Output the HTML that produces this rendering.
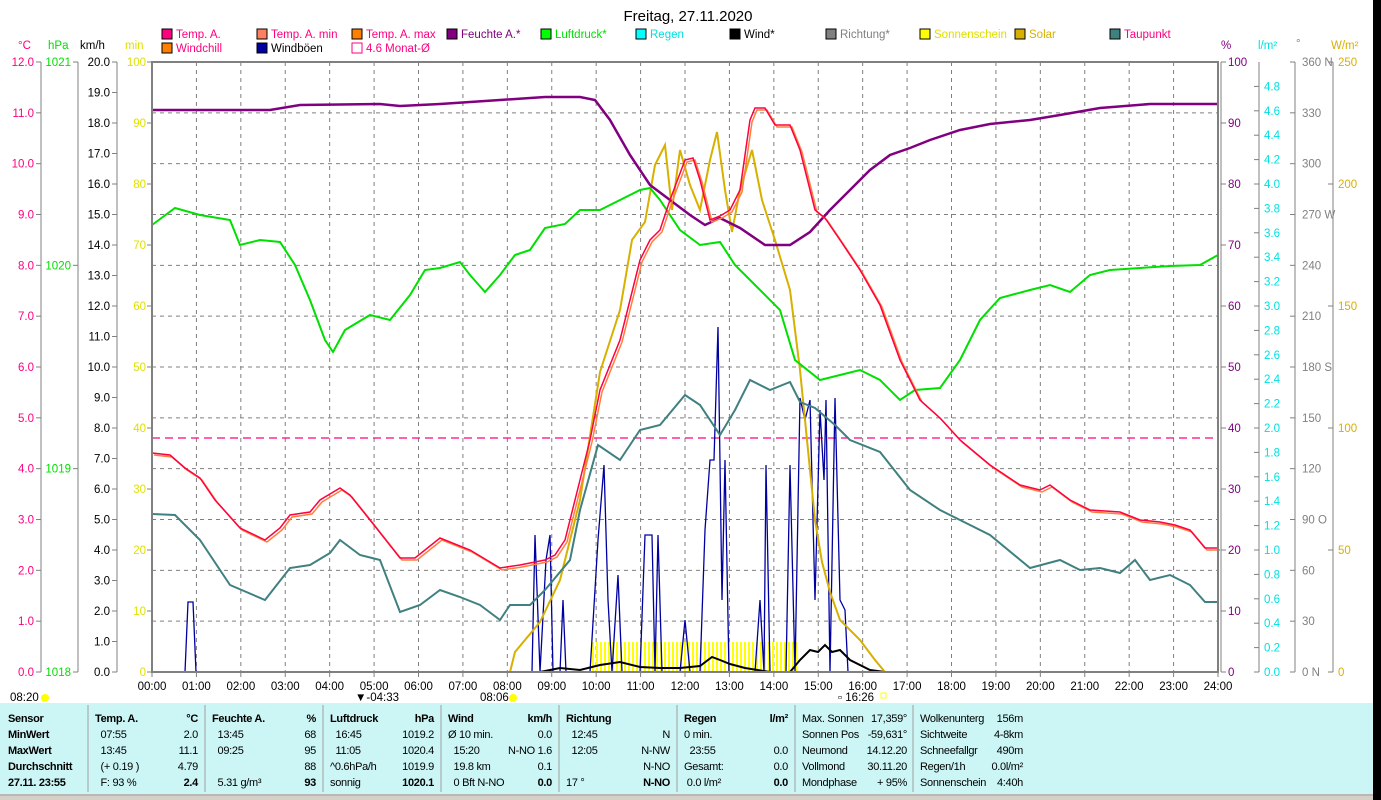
<!DOCTYPE html>
<html><head><meta charset="utf-8"><style>
html,body{margin:0;padding:0;background:#fff;width:1381px;height:800px;overflow:hidden}
svg{display:block;font-family:"Liberation Sans",sans-serif;font-size:12px}
#tbl text{letter-spacing:-0.3px}
</style></head><body>
<svg id="s" width="1381" height="800" viewBox="0 0 1381 800" xmlns="http://www.w3.org/2000/svg">
<rect x="1373" y="0" width="8" height="800" fill="#000"/>
<text x="688" y="21" font-size="15" text-anchor="middle">Freitag, 27.11.2020</text>
<g id="leg" font-size="11.5"></g>
<g id="ax"></g>
<defs><pattern id="sun" width="4" height="30" patternUnits="userSpaceOnUse"><rect width="2" height="30" fill="#ffff00"/></pattern></defs>
<rect x="590" y="642" width="207" height="30" fill="url(#sun)"/>
<line x1="152" y1="438" x2="1218" y2="438" stroke="#ff0080" stroke-width="1.3" stroke-dasharray="8,5"/>
<polyline fill="none" stroke="#0000a0" stroke-width="1.3" points="152,672 185,672 188,602 193,602 196,672 532,672 535,535 540,672 546,560 550,535 553,672 560,672 563,600 566,672 590,672 598,540 604,465 608,600 612,672 618,575 622,672 640,672 645,535 652,535 655,672 658,535 662,672 680,672 685,620 690,672 700,672 705,530 710,460 714,460 718,327 722,600 725,460 729,672 755,672 760,600 764,672 766,465 770,672 786,672 790,465 795,672 800,398 805,420 810,400 815,600 820,410 824,480 826,400 830,672 835,398 840,600 845,610 848,672 1218,672"/>
<polyline fill="none" stroke="#000" stroke-width="2" points="540,672 560,668 580,670 600,665 620,662 640,667 660,668 680,668 700,666 712,657 720,660 730,664 745,668 770,672 790,672 800,660 810,650 818,652 825,645 832,652 840,650 850,660 870,670 885,672"/>
<polyline fill="none" stroke="#d8b000" stroke-width="2" points="510,672 515,652 540,622 560,580 580,500 600,372 620,310 632,240 645,222 655,165 665,145 672,210 680,150 690,185 700,210 710,160 717,132 725,190 732,232 740,190 752,150 762,200 775,240 790,290 800,370 805,420 810,470 815,520 822,562 830,592 840,620 860,640 875,660 885,672"/>
<polyline fill="none" stroke="#00e000" stroke-width="2" points="152,225 175,208 200,215 230,220 240,245 260,240 280,242 295,265 310,300 325,340 333,352 345,330 370,315 390,320 410,295 425,270 440,268 460,262 470,275 485,292 500,275 515,255 530,250 545,228 565,224 580,210 600,210 620,200 640,190 650,188 660,200 680,230 700,245 720,242 735,265 760,290 780,310 795,360 820,380 840,375 860,370 880,380 900,400 915,390 940,388 960,360 980,320 1000,298 1030,290 1050,285 1070,292 1090,275 1110,270 1140,268 1170,266 1200,265 1218,255"/>
<polyline fill="none" stroke="#408080" stroke-width="2" points="152,514 175,515 200,540 230,585 265,600 290,568 310,565 330,553 340,540 360,555 380,560 400,612 420,605 440,590 460,597 480,605 500,620 510,605 530,605 545,590 570,560 580,510 598,445 620,460 640,430 660,425 685,395 700,405 720,435 735,410 750,380 770,390 790,382 800,402 815,408 835,425 850,440 880,452 910,490 940,510 960,520 990,535 1030,568 1060,560 1080,570 1100,568 1120,573 1135,560 1150,580 1170,575 1190,585 1205,602 1218,602"/>
<polyline fill="none" stroke="#800080" stroke-width="2.5" points="152,110 270,110 300,105 380,104 400,106 440,104 500,100 545,97 580,97 595,100 610,120 630,155 650,185 670,200 690,215 705,225 720,218 740,228 765,245 790,245 810,232 830,210 850,190 870,170 890,155 910,148 930,140 960,130 990,124 1030,120 1060,115 1100,108 1150,104 1218,104"/>
<polyline fill="none" stroke="#ff8040" stroke-width="1.5" transform="translate(2,2)" points="152,453 170,455 185,468 200,478 215,500 240,528 265,540 280,528 290,515 310,512 320,500 340,488 350,495 370,520 400,558 415,558 440,538 470,550 500,568 520,565 545,560 555,555 565,540 580,480 590,440 600,390 620,340 640,260 650,240 660,230 670,200 685,160 693,158 700,180 710,220 720,216 730,210 740,190 750,120 755,108 765,108 775,125 790,125 800,150 815,210 825,218 840,240 860,270 880,305 900,360 920,400 940,418 960,440 990,465 1020,485 1040,490 1050,485 1070,500 1090,510 1120,512 1140,520 1160,522 1175,525 1190,530 1205,548 1218,548"/>
<polyline fill="none" stroke="#ff0040" stroke-width="1.5" points="152,453 170,455 185,468 200,478 215,500 240,528 265,540 280,528 290,515 310,512 320,500 340,488 350,495 370,520 400,558 415,558 440,538 470,550 500,568 520,565 545,560 555,555 565,540 580,480 590,440 600,390 620,340 640,260 650,240 660,230 670,200 685,160 693,158 700,180 710,220 720,216 730,210 740,190 750,120 755,108 765,108 775,125 790,125 800,150 815,210 825,218 840,240 860,270 880,305 900,360 920,400 940,418 960,440 990,465 1020,485 1040,490 1050,485 1070,500 1090,510 1120,512 1140,520 1160,522 1175,525 1190,530 1205,548 1218,548"/>
<line x1="152" y1="672" x2="1218" y2="672" stroke="#00e0e0" stroke-width="2"/>
<rect x="152" y="62" width="1066" height="610" fill="none" stroke="#808080" stroke-width="2"/>
<g font-size="11.5">
<text x="10" y="701">08:20</text><circle cx="45" cy="698" r="4" fill="#ffff00"/>
<text x="355" y="701">▼-04:33</text>
<text x="480" y="701">08:06</text><circle cx="513" cy="698" r="4" fill="#ffff00"/>
<text x="838" y="701">▫ 16:26</text><rect x="881" y="693" width="5" height="5" fill="none" stroke="#ffff00"/>
</g>
<rect x="0" y="703" width="1373" height="91" fill="#ccf5f5"/>
<rect x="0" y="794" width="1373" height="6" fill="#d4d0c8"/>
<line x1="0" y1="795" x2="1373" y2="795" stroke="#a0a0a0"/>
<g stroke="#a0a0a0"><line x1="88" y1="705" x2="88" y2="792"/><line x1="205" y1="705" x2="205" y2="792"/><line x1="323" y1="705" x2="323" y2="792"/><line x1="441" y1="705" x2="441" y2="792"/><line x1="559" y1="705" x2="559" y2="792"/><line x1="677" y1="705" x2="677" y2="792"/><line x1="795" y1="705" x2="795" y2="792"/><line x1="913" y1="705" x2="913" y2="792"/></g>
<g id="tbl" font-size="11"></g>
</svg>
<script>
var NS="http://www.w3.org/2000/svg",ax=document.getElementById('ax');
function T(g,x,y,t,o){var e=document.createElementNS(NS,'text');e.setAttribute('x',x);e.setAttribute('y',y);for(var k in (o||{}))e.setAttribute(k,o[k]);e.textContent=t;e.style.whiteSpace='pre';g.appendChild(e);return e;}
function L(g,x1,y1,x2,y2,c,o){var e=document.createElementNS(NS,'line');e.setAttribute('x1',x1);e.setAttribute('y1',y1);e.setAttribute('x2',x2);e.setAttribute('y2',y2);e.setAttribute('stroke',c);for(var k in (o||{}))e.setAttribute(k,o[k]);g.appendChild(e);}
for(var h=1;h<24;h++){var x=152+h*1066/24;L(ax,x,62,x,672,'#808080',{'stroke-dasharray':'4,4'});}
for(var i=1;i<12;i++){var y=672-i*610/12;L(ax,152,y,1218,y,'#808080',{'stroke-dasharray':'4,4'});}
for(var h=0;h<=24;h++){var x=152+h*1066/24;L(ax,x,672,x,677,'#808080');T(ax,x,690,(h<10?'0':'')+h+':00',{'text-anchor':'middle','font-size':'11.5'});}
L(ax,41,62,41,672,'#808080');for(var i=0;i<=12;i++){var y=672-i*610/12;L(ax,36,y,41,y,'#808080');T(ax,34,y+4,i.toFixed(1),{'text-anchor':'end','fill':'#ff0080','font-size':'11.5'});}
L(ax,78,62,78,672,'#808080');for(var i=0;i<=3;i++){var y=672-i*610/3;L(ax,73,y,78,y,'#808080');T(ax,71,y+4,1018+i,{'text-anchor':'end','fill':'#00e000','font-size':'11.5'});}
L(ax,117,62,117,672,'#808080');for(var i=0;i<=20;i++){var y=672-i*610/20;L(ax,112,y,117,y,'#808080');T(ax,110,y+4,i.toFixed(1),{'text-anchor':'end','font-size':'11.5'});}
for(var i=0;i<=10;i++){var y=672-i*61;L(ax,147,y,152,y,'#808080');T(ax,146,y+4,i*10,{'text-anchor':'end','fill':'#e0e000','font-size':'11.5'});}
T(ax,18,49,'°C',{'fill':'#ff0080','font-size':'11.5'});T(ax,48,49,'hPa',{'fill':'#00e000','font-size':'11.5'});T(ax,80,49,'km/h',{'font-size':'11.5'});T(ax,125,49,'min',{'fill':'#e0e000','font-size':'11.5'});
L(ax,1221,62,1221,672,'#808080');for(var i=0;i<=10;i++){var y=672-i*61;L(ax,1221,y,1226,y,'#808080');T(ax,1228,y+4,i*10,{'fill':'#800080','font-size':'11.5'});}
L(ax,1259,62,1259,672,'#808080');for(var i=0;i<=24;i++){var y=672-i*24.4;L(ax,1254,y,1259,y,'#808080');T(ax,1264,y+4,(i*0.2).toFixed(1),{'fill':'#00e0e0','font-size':'11.5'});}
L(ax,1295,62,1295,672,'#808080');var dl=['0 N','30','60','90 O','120','150','180 S','210','240','270 W','300','330','360 N'];for(var i=0;i<=12;i++){var y=672-i*610/12;L(ax,1290,y,1295,y,'#808080');T(ax,1302,y+4,dl[i],{'fill':'#808080','font-size':'11.5'});}
L(ax,1333,62,1333,672,'#808080');for(var i=0;i<=5;i++){var y=672-i*122;L(ax,1328,y,1333,y,'#808080');T(ax,1338,y+4,i*50,{'fill':'#d8b000','font-size':'11.5'});}
T(ax,1221,49,'%',{'fill':'#800080','font-size':'11.5'});T(ax,1258,49,'l/m²',{'fill':'#00e0e0','font-size':'11.5'});T(ax,1296,47,'°',{'fill':'#808080','font-size':'11.5'});T(ax,1331,49,'W/m²',{'fill':'#d8b000','font-size':'11.5'});
var lg=document.getElementById('leg');
function item(x,y,box,txt,tc,outline){var r=document.createElementNS(NS,'rect');r.setAttribute('x',x);r.setAttribute('y',y-9);r.setAttribute('width',10);r.setAttribute('height',10);r.setAttribute('fill',outline?'none':box);r.setAttribute('stroke',outline?box:'#000');lg.appendChild(r);T(lg,x+14,y,txt,{'fill':tc});}
var r1=38,r2=52;
item(162,r1,'#ff0080','Temp. A.','#ff0080');item(257,r1,'#ff8060','Temp. A. min','#ff0080');item(352,r1,'#ff8000','Temp. A. max','#ff0080');item(447,r1,'#800080','Feuchte A.*','#800080');item(541,r1,'#00ff00','Luftdruck*','#00e000');item(636,r1,'#00ffff','Regen','#00e0e0');item(730,r1,'#000','Wind*','#000');item(826,r1,'#808080','Richtung*','#808080');item(920,r1,'#ffff00','Sonnenschein','#e0e000');item(1015,r1,'#d8b000','Solar','#d8b000');item(1110,r1,'#408080','Taupunkt','#ff0080');
item(162,r2,'#ff8000','Windchill','#ff0080');item(257,r2,'#0000a0','Windböen','#000');item(352,r2,'#ff0080','4.6 Monat-Ø','#ff0080',true);
var tb=document.getElementById('tbl');var Y=[722,738,754,770,786];
function col(x,xr,rows){rows.forEach(function(r,i){var b=(i==0||i==4)?{'font-weight':'bold'}:{};if(r[0])T(tb,x,Y[i],r[0],i==0?{'font-weight':'bold'}:{});if(r[1])T(tb,xr,Y[i],r[1],Object.assign({'text-anchor':'end'},b));});}
['Sensor','MinWert','MaxWert','Durchschnitt','27.11. 23:55'].forEach(function(t,i){T(tb,8,Y[i],t,{'font-weight':'bold'});});
col(95,198,[['Temp. A.','°C'],['  07:55','2.0'],['  13:45','11.1'],['  (+ 0.19 )','4.79'],['  F: 93 %','2.4']]);
col(212,316,[['Feuchte A.','%'],['  13:45','68'],['  09:25','95'],['','88'],['  5.31 g/m³','93']]);
col(330,434,[['Luftdruck','hPa'],['  16:45','1019.2'],['  11:05','1020.4'],['^0.6hPa/h','1019.9'],['sonnig','1020.1']]);
col(448,552,[['Wind','km/h'],['Ø 10 min.','0.0'],['  15:20','N-NO 1.6'],['  19.8 km','0.1'],['  0 Bft N-NO','0.0']]);
col(566,670,[['Richtung',''],['  12:45','N'],['  12:05','N-NW'],['','N-NO'],['17 °','N-NO']]);
col(684,788,[['Regen','l/m²'],['0 min.',''],['  23:55','0.0'],['Gesamt:','0.0'],[' 0.0 l/m²','0.0']]);
var c8=[['Max. Sonnen','17,359°'],['Sonnen Pos','-59,631°'],['Neumond','14.12.20'],['Vollmond','30.11.20'],['Mondphase','+ 95%']];
c8.forEach(function(r,i){T(tb,802,Y[i],r[0]);T(tb,907,Y[i],r[1],{'text-anchor':'end'});});
var c9=[['Wolkenunterg','156m'],['Sichtweite','4-8km'],['Schneefallgr','490m'],['Regen/1h','0.0l/m²'],['Sonnenschein','4:40h']];
c9.forEach(function(r,i){T(tb,920,Y[i],r[0]);T(tb,1023,Y[i],r[1],{'text-anchor':'end'});});
</script>
</body></html>
